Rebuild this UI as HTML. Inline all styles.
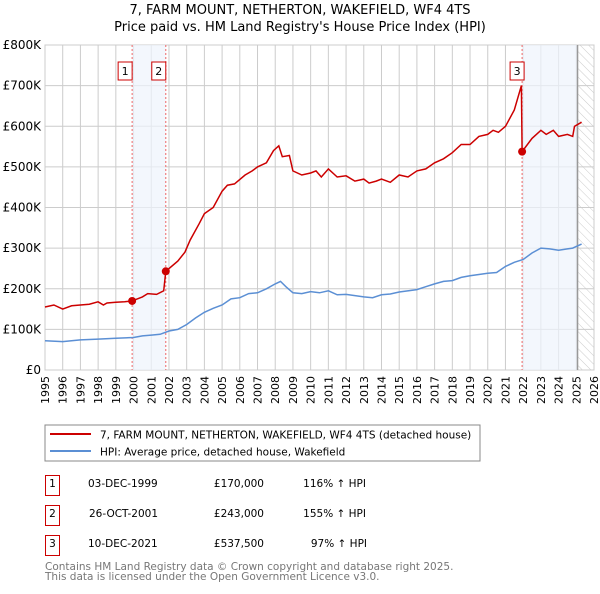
<!DOCTYPE html>
<html><head><meta charset="utf-8"><style>
body{margin:0;background:#fff;font-family:"DejaVu Sans","Liberation Sans",sans-serif;}
svg text{font-family:"DejaVu Sans","Liberation Sans",sans-serif;}
</style></head><body>
<svg id="chart" width="600" height="590" viewBox="0 0 600 590" xmlns="http://www.w3.org/2000/svg">
<defs><pattern id="hatch" width="6" height="6" patternUnits="userSpaceOnUse" patternTransform="rotate(-45)"><line x1="0" y1="0" x2="0" y2="6" stroke="#ccc" stroke-width="1"/></pattern></defs>
<text x="300" y="14" text-anchor="middle" font-size="13">7, FARM MOUNT, NETHERTON, WAKEFIELD, WF4 4TS</text>
<text x="300" y="31" text-anchor="middle" font-size="13">Price paid vs. HM Land Registry's House Price Index (HPI)</text>
<g id="grid"></g><g id="shade"></g><g id="series"></g><g id="axes"></g>
<rect x="45" y="425" width="435" height="36" fill="#fff" stroke="#888"/>
<line x1="50" y1="434" x2="91" y2="434" stroke="#cc0000" stroke-width="2"/>
<text x="100" y="438.5" font-size="10.5">7, FARM MOUNT, NETHERTON, WAKEFIELD, WF4 4TS (detached house)</text>
<line x1="50" y1="451" x2="91" y2="451" stroke="#5b8fd4" stroke-width="2"/>
<text x="100" y="455.5" font-size="10.5">HPI: Average price, detached house, Wakefield</text>
<g font-size="10.5">
<rect x="45.5" y="475.5" width="14" height="20" fill="#fff" stroke="#cc0000"/><text x="52.5" y="487" text-anchor="middle">1</text>
<text x="88" y="487">03-DEC-1999</text><text x="264" y="487" text-anchor="end">£170,000</text><text x="366" y="487" text-anchor="end">116% ↑ HPI</text>
<rect x="45.5" y="505.5" width="14" height="20" fill="#fff" stroke="#cc0000"/><text x="52.5" y="517" text-anchor="middle">2</text>
<text x="89" y="517">26-OCT-2001</text><text x="264" y="517" text-anchor="end">£243,000</text><text x="366" y="517" text-anchor="end">155% ↑ HPI</text>
<rect x="45.5" y="535.5" width="14" height="20" fill="#fff" stroke="#cc0000"/><text x="52.5" y="547" text-anchor="middle">3</text>
<text x="88" y="547">10-DEC-2021</text><text x="264" y="547" text-anchor="end">£537,500</text><text x="367" y="547" text-anchor="end">97% ↑ HPI</text>
</g>
<text x="45" y="570" font-size="10.5" fill="#777">Contains HM Land Registry data © Crown copyright and database right 2025.</text>
<text x="45" y="580" font-size="10.5" fill="#777">This data is licensed under the Open Government Licence v3.0.</text>
</svg>
<script>
const yTicks=[0,100,200,300,400,500,600,700,800];
const years=[1995,1996,1997,1998,1999,2000,2001,2002,2003,2004,2005,2006,2007,2008,2009,2010,2011,2012,2013,2014,2015,2016,2017,2018,2019,2020,2021,2022,2023,2024,2025,2026];
const saleDates=[1999.92,2001.82,2021.94];
const salePrices=[170,243,537.5];
const saleLabels=["1","2","3"];
const dataEnd=2025.07;
const propT=[1995,1995.5,1996,1996.5,1997,1997.5,1998,1998.3,1998.5,1999,1999.5,1999.92,2000.5,2000.8,2001.3,2001.7,2001.82,2002.5,2002.9,2003.2,2003.7,2004,2004.5,2005,2005.3,2005.7,2006.3,2006.7,2007,2007.5,2007.9,2008.2,2008.4,2008.8,2009,2009.5,2010,2010.3,2010.6,2011,2011.5,2012,2012.5,2013,2013.3,2013.7,2014,2014.5,2015,2015.5,2016,2016.5,2017,2017.5,2018,2018.5,2019,2019.5,2020,2020.3,2020.6,2021,2021.5,2021.9,2021.94,2022.5,2023,2023.3,2023.7,2024,2024.5,2024.8,2024.9,2025.3];
const propV=[155,160,150,158,160,162,168,160,165,167,168,170,180,188,186,195,243,268,290,320,360,385,400,440,455,458,480,490,500,510,540,552,525,528,490,480,485,490,475,495,475,478,465,470,460,465,470,462,480,475,490,495,510,520,535,555,555,575,580,590,585,600,640,700,537.5,570,590,580,590,575,580,575,600,610];
const hpiT=[1995,1996,1997,1998,1999,2000,2000.5,2001,2001.5,2002,2002.5,2003,2003.5,2004,2004.5,2005,2005.5,2006,2006.5,2007,2007.5,2008,2008.3,2008.6,2009,2009.5,2010,2010.5,2011,2011.5,2012,2013,2013.5,2014,2014.5,2015,2016,2016.5,2017,2017.5,2018,2018.5,2019,2019.5,2020,2020.5,2021,2021.5,2022,2022.5,2023,2023.5,2024,2024.5,2024.8,2025.3];
const hpiV=[72,70,74,76,78,80,84,86,88,96,100,112,128,142,152,160,175,178,188,190,200,212,218,205,190,188,193,190,195,185,186,180,178,185,187,192,198,205,212,218,220,228,232,235,238,240,255,265,272,288,300,298,295,298,300,310];
const X0=45,X1=594,Y0=370,Y1=45;
const xs=t=>X0+(t-1995)/(2026-1995)*(X1-X0);
const ys=v=>Y0-v/800*(Y0-Y1);
const NS="http://www.w3.org/2000/svg";
function mk(tag,attrs,parent,txt){const e=document.createElementNS(NS,tag);for(const k in attrs)e.setAttribute(k,attrs[k]);if(txt!==undefined)e.textContent=txt;document.getElementById(parent).appendChild(e);return e;}
mk('rect',{x:X0,y:Y1,width:X1-X0,height:Y0-Y1,fill:'#fff',stroke:'#ccc'},'grid');
years.forEach(y=>{const l=mk('line',{x1:xs(y),x2:xs(y),y1:Y1,y2:Y0,stroke:'#ccc'},'grid');


const t=mk('text',{x:0,y:0,'font-size':11,'text-anchor':'end',transform:`translate(${xs(y)+4},${Y0+6}) rotate(-90)`},'axes',y);

});
yTicks.forEach(v=>{const l=mk('line',{x1:X0,x2:X1,y1:ys(v),y2:ys(v),stroke:'#ccc'},'grid');


const t=mk('text',{x:X0-4,y:ys(v)+4,'font-size':12,'text-anchor':'end'},'axes',v===0?'£0':'£'+v+'K');

});
const s1=mk('rect',{x:xs(saleDates[0]),y:Y1,width:xs(saleDates[1])-xs(saleDates[0]),height:Y0-Y1,fill:'#eef3fc',opacity:0.7},'shade');


const s2=mk('rect',{x:xs(saleDates[2]),y:Y1,width:xs(dataEnd)-xs(saleDates[2]),height:Y0-Y1,fill:'#eef3fc',opacity:0.7},'shade');


const h=mk('rect',{x:xs(dataEnd),y:Y1,width:X1-xs(dataEnd),height:Y0-Y1,fill:'url(#hatch)'},'shade');


const el=mk('line',{x1:xs(dataEnd),x2:xs(dataEnd),y1:Y1,y2:Y0,stroke:'#999','stroke-width':1.5},'shade');


saleDates.forEach((d,i)=>{const l=mk('line',{x1:xs(d),x2:xs(d),y1:Y1,y2:Y0,stroke:'#ee6666','stroke-dasharray':'2,2'},'shade');

});
function path(T,V){return T.map((t,i)=>(i?'L':'M')+xs(t).toFixed(1)+','+ys(V[i]).toFixed(1)).join('');}
const hp=mk('path',{d:path(hpiT,hpiV),fill:'none',stroke:'#5b8fd4','stroke-width':1.5},'series');


const pp=mk('path',{d:path(propT,propV),fill:'none',stroke:'#cc0000','stroke-width':1.5},'series');


saleDates.forEach((d,i)=>{const c=mk('circle',{cx:xs(d),cy:ys(salePrices[i]),r:4,fill:'#cc0000'},'series');


const bx=xs(d)-(i===2?5:7);
const r=mk('rect',{x:bx-7,y:62,width:14,height:18,fill:'#fff',stroke:'#cc0000'},'series');


const t=mk('text',{x:bx,y:75,'font-size':11,'text-anchor':'middle'},'series',saleLabels[i]);

});
</script>
</body></html>
